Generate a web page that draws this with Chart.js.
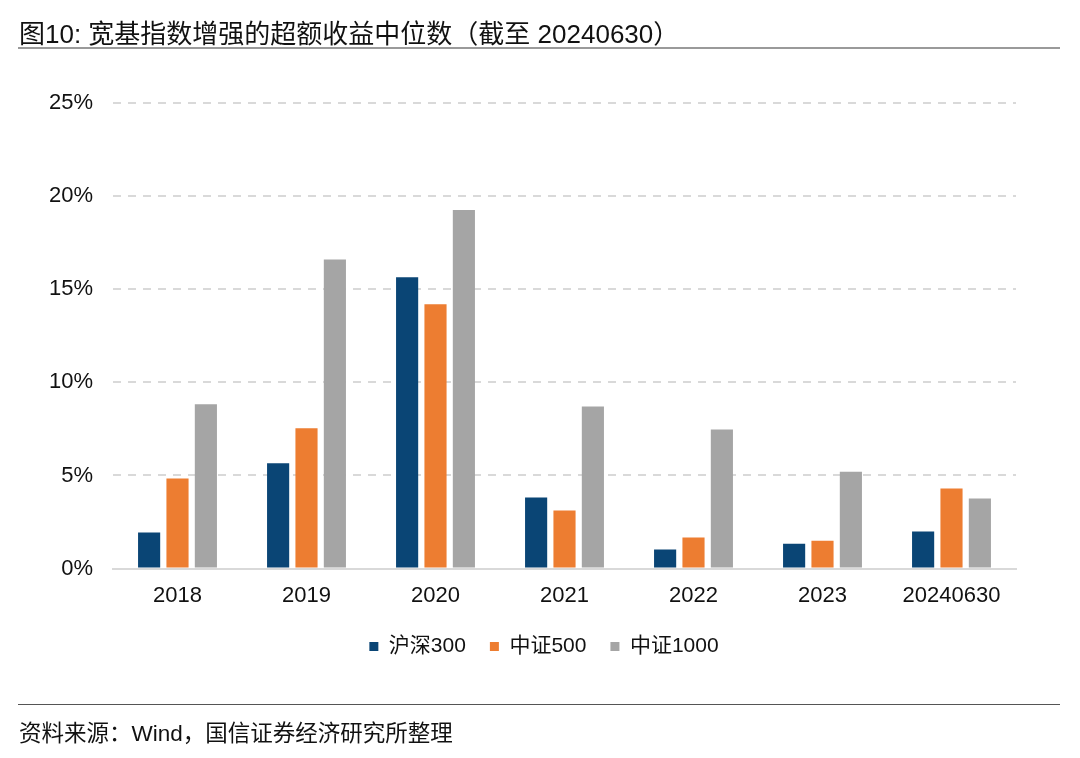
<!DOCTYPE html>
<html>
<head>
<meta charset="utf-8">
<script src="https://cdn.jsdelivr.net/npm/chart.js@4"></script>
<style>
body{margin:0;background:#fff;width:1080px;height:758px;overflow:hidden;position:relative;font-family:"Liberation Sans","Noto Sans CJK SC",sans-serif}
#titulo{position:absolute;left:19px;top:13px;font-size:26px;color:#111;white-space:nowrap}
#linhaTopo{position:absolute;left:18px;top:47px;width:1042px;height:2px;background:#9a9a9a}
#linhaBase{position:absolute;left:18px;top:704px;width:1042px;height:1px;background:#555}
#fonte{position:absolute;left:19px;top:715px;font-size:22.5px;color:#111;white-space:nowrap}
#box{position:absolute;left:0;top:0;width:1080px;height:758px}
</style>
</head>
<body>
<div id="box"><canvas id="grafico"></canvas></div>
<div id="titulo">图10: 宽基指数增强的超额收益中位数（截至 20240630）</div>
<div id="linhaTopo"></div>
<div id="linhaBase"></div>
<div id="fonte">资料来源：Wind，国信证券经济研究所整理</div>
<script>
// dados (%)
const anos=["2018","2019","2020","2021","2022","2023","20240630"]
const hs300=[1.94,5.65,15.65,3.82,1.02,1.34,1.99]
const zz500=[4.84,7.53,14.19,3.12,1.67,1.50,4.30]
const zz1000=[8.82,16.6,19.25,8.71,7.47,5.20,3.76]
const nomes=["沪深300","中证500","中证1000"]
const cores=["#0a4575","#ed7d31","#a5a5a5"]

const fonte='"Liberation Sans","Noto Sans CJK SC",sans-serif'
Chart.defaults.font.family=fonte
Chart.defaults.color="#111"

// empurra a legenda para a posição do original
const moverLegenda={
id:"moverLegenda",
afterLayout(chart){
const l=chart.legend
const dx=26,dy=-3
l.left+=dx;l.right+=dx
l.top+=dy;l.bottom+=dy
}
}

new Chart(document.getElementById("grafico"),{
type:"bar",
data:{
labels:anos,
datasets:[hs300,zz500,zz1000].map((d,i)=>({
label:nomes[i],
data:d,
backgroundColor:cores[i],
barPercentage:0.78,
categoryPercentage:0.66
}))
},
options:{
responsive:true,
maintainAspectRatio:false,
animation:false,
layout:{padding:{left:20,right:64,top:103,bottom:88}},
plugins:{
legend:{
position:"bottom",
labels:{boxWidth:9,boxHeight:9,padding:24,font:{size:21}}
},
tooltip:{enabled:false}
},
scales:{
x:{
grid:{display:false},
border:{display:true,color:"#d9d9d9",width:2},
ticks:{font:{size:22},padding:6}
},
y:{
min:0,max:25,
afterFit:s=>{s.width=93},
ticks:{stepSize:5,font:{size:22},padding:20,callback:v=>v+"%"},
grid:{color:"#d9d9d9",lineWidth:2,drawTicks:false},
border:{display:false,dash:[8,7]}
}
}
},
plugins:[moverLegenda]
})
</script>
</body>
</html>
